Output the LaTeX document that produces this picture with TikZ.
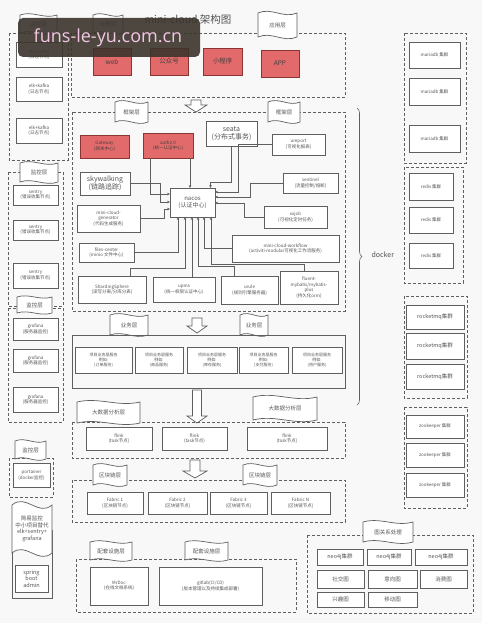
\documentclass[tikz,border=0pt]{standalone}
\usepackage{fontspec}
\setmainfont{Noto Sans CJK SC}
\newfontfamily\wmfont{Open Sans}
\usetikzlibrary{arrows.meta,decorations.pathreplacing,calc}
\definecolor{bordergray}{HTML}{5F5F5F}
\definecolor{textgray}{HTML}{555555}
\definecolor{redfill}{HTML}{E36A6A}
\definecolor{redborder}{HTML}{8A3434}
\definecolor{bgcol}{HTML}{F8F8F8}
\definecolor{wmbg}{HTML}{3B342D}
\definecolor{wmtext}{HTML}{F4C8E4}
\tikzset{
 box/.style={draw=bordergray, line width=0.8pt, fill=white, inner sep=0pt, outer sep=0pt, align=center, text=textgray, font=\fontsize{4.5}{5.5}\selectfont},
 redbox/.style={box, fill=redfill, draw=redborder, text=black!75},
 grp/.style={draw=bordergray, line width=0.8pt, dash pattern=on 3pt off 2pt},
 flagshape/.style={draw=bordergray, line width=0.7pt, fill=white},
 flagtext/.style={text=textgray, font=\fontsize{5.5}{6.5}\selectfont, inner sep=0pt, align=center},
 conn/.style={draw=bordergray, line width=0.6pt, -{Stealth[length=3pt,width=2.6pt]}},
 harrow/.style={draw=bordergray, line width=0.7pt, fill=white},
}
\newcommand\bx[7][box]{\node[#1, minimum width={(#5-#3)*1pt}, minimum height={(#6-#4)*1pt}] (#2) at ({(#3+#5)/2},{(#4+#6)/2}) {#7};}
\newcommand\flagnode[6]{\draw[flagshape] (#2,#3) .. controls ({#2+0.35*(#4-#2)},{#3-0.25*(#5-#3)}) and ({#2+0.65*(#4-#2)},{#3+0.25*(#5-#3)}) .. (#4,#3) -- (#4,#5) .. controls ({#2+0.65*(#4-#2)},{#5+0.25*(#5-#3)}) and ({#2+0.35*(#4-#2)},{#5-0.25*(#5-#3)}) .. (#2,#5) -- cycle; \node[flagtext] (#1) at ({(#2+#4)/2},{(#3+#5)/2}) {#6};}
\newcommand\harrowshape[5]{\draw[harrow] ({#1-#4},#2) -- ({#1+#4},#2) -- ({#1+#4},{#3-7}) -- ({#1+#5},{#3-7}) -- (#1,#3) -- ({#1-#5},{#3-7}) -- ({#1-#4},{#3-7}) -- cycle;}
\begin{document}
\begin{tikzpicture}[x=1pt,y=-1pt]
\fill[bgcol] (0,0) rectangle (482,623);
\useasboundingbox (0,0) rectangle (482,623);

% ---------- left column ----------
\draw[grp] (9,33) rectangle (68,160);
\flagnode{lblmon1}{20}{15}{57}{33}{监控层}
\bx{elk1}{16}{42}{62}{67}{elk+kafka\\(日志节点)}
\bx{elk2}{16}{77}{62}{101}{elk+kafka\\(日志节点)}
\bx{elk3}{16}{118}{62}{143}{elk+kafka\\(日志节点)}

\draw[grp] (8,172) rectangle (63,306);
\flagnode{lblmon2}{20}{163}{58}{182}{监控层}
\bx{sen1}{13}{185}{58}{205}{sentry\\(错误收集节点)}
\bx{sen2}{13}{220}{58}{240}{sentry\\(错误收集节点)}
\bx{sen3}{13}{263}{58}{288}{sentry\\(错误收集节点)}

\draw[grp] (8,308) rectangle (63,422);
\flagnode{lblmon3}{17}{297}{52}{313}{监控层}
\bx{gra1}{13}{318}{58}{340}{grafana\\(服务器监控)}
\bx{gra2}{13}{349}{58}{372}{grafana\\(服务器监控)}
\bx{gra3}{13}{387}{58}{412}{grafana\\(服务器监控)}

\draw[grp] (9,458) rectangle (53,497);
\flagnode{lblmon4}{15}{441}{46}{459}{监控层}
\bx{portainer}{13}{463}{50}{487}{portainer\\(docker监控)}

\draw[draw=bordergray, line width=0.8pt] (12,530) rectangle (52,598);
\flagnode{lblsimple}{12}{505}{52}{553}{简易监控\\中小项目替代\\elk+sentry+\\grafana}
\bx[box, font=\fontsize{5.5}{6.5}\selectfont]{sba}{15}{565}{48}{592}{spring\\boot\\admin}

% ---------- title & application layer ----------
\node[text=textgray, font=\fontsize{10.5}{12}\selectfont] (title) at (188,20) {mini-cloud 架构图};
\draw[grp] (71,33) rectangle (345,97);
\flagnode{lblapp1}{93}{15}{123}{33}{应用层}
\flagnode{lblapp2}{258}{13}{297}{37}{应用层}
\bx[redbox, font=\fontsize{6.5}{7.5}\selectfont]{web}{93}{48}{131}{75}{web}
\bx[redbox, font=\fontsize{6.5}{7.5}\selectfont]{gzh}{150}{48}{188}{75}{公众号}
\bx[redbox, font=\fontsize{6.5}{7.5}\selectfont]{xcx}{203}{48}{242}{75}{小程序}
\bx[redbox, font=\fontsize{6.5}{7.5}\selectfont]{app}{261}{50}{299}{77}{APP}
\harrowshape{196}{100}{112}{5}{11}

% ---------- framework layer ----------
\draw[grp] (72,112) rectangle (345,311);
\flagnode{lblfw1}{115}{102}{148}{122}{框架层}
\flagnode{lblfw2}{268}{102}{300}{122}{框架层}
\bx[redbox]{gw}{80}{135}{129}{158}{Gateway\\(网关中心)}
\bx[redbox]{auth}{143}{133}{193}{158}{auth2.0\\(统一认证中心)}
\bx[box, font=\fontsize{7}{8}\selectfont]{seata}{206}{121}{257}{146}{seata\\(分布式事务)}
\bx{ureport}{272}{134}{325}{155}{ureport\\(可视化报表)}
\bx[box, font=\fontsize{7}{8}\selectfont]{sky}{80}{172}{130}{195}{skywalking\\(链路追踪)}
\bx{sentinel}{283}{173}{338}{193}{sentinel\\(流量控制/熔断)}
\bx[box, font=\fontsize{6}{7}\selectfont]{nacos}{170}{188}{215}{217}{nacos\\(认证中心)}
\bx{gen}{77}{205}{140}{232}{mini-cloud-\\generator\\(代码生成服务)}
\bx{xxjob}{264}{206}{327}{228}{xxjob\\(可视化定时任务)}
\bx{files}{79}{243}{134}{262}{files-center\\(minio 文件中心)}
\bx{wf}{232}{235}{339}{262}{mini-cloud-workflow\\(activiti-modular可视化工作流服务)}
\bx{shard}{78}{276}{146}{303}{ShardingSphere\\(读写分离/分库分表)}
\bx{upms}{153}{277}{215}{302}{upms\\(统一权限认证中心)}
\bx{urule}{221}{276}{278}{304}{urule\\(规则引擎服务器)}
\bx{fluent}{280}{271}{338}{304}{fluent-\\mybatis/mybatis-\\plus\\(持久化orm)}

% connectors into nacos
\draw[conn] ([xshift=-18pt]auth.south) |- ([yshift=8.5pt]nacos.west);
\draw[conn] ([xshift=22pt]auth.south) -- ([xshift=-2.5pt]nacos.north);
\draw[conn] (seata.south) |- (210.5,182) -- ([xshift=18pt]nacos.north);
\draw[conn] (ureport.west) -| (238,192) -- ([yshift=10.5pt]nacos.east);
\draw[conn] (sentinel.west) -| (250,197) -- ([yshift=5.5pt]nacos.east);
\draw[conn] (xxjob.west) -| (244,203) -- ([yshift=-0.5pt]nacos.east);
\draw[conn] (sky.east) -| (160,202) -- ([yshift=0.5pt]nacos.west);
\draw[conn] (gen.east) -| (164,209) -- ([yshift=-6.5pt]nacos.west);
\draw[conn] (files.east) -| ([xshift=-14.5pt]nacos.south);
\draw[conn] ([xshift=18pt]shard.north) |- (185,268) -- ([xshift=-7.5pt]nacos.south);
\draw[conn] ([xshift=8pt]upms.north) -- ([xshift=-0.5pt]nacos.south);
\draw[conn] ([xshift=-15pt]urule.north) |- (198,266) -- ([xshift=5.5pt]nacos.south);
\draw[conn] (wf.west) -| ([xshift=11.5pt]nacos.south);
\draw[conn] ([xshift=-5pt]fluent.north) |- (211,264.5) -- ([xshift=18.5pt]nacos.south);

% ---------- business layer ----------
\harrowshape{197}{318}{333}{5}{10}
\flagnode{lblbiz1}{110}{315}{148}{335}{业务层}
\flagnode{lblbiz2}{240}{315}{268}{335}{业务层}
\draw[draw=bordergray, line width=0.8pt] (72,335) rectangle (345,388);
\bx[box, font=\fontsize{4}{5}\selectfont]{biz1}{75}{347}{132}{373}{项目业务层服务\\例如:\\(订单服务)}
\bx[box, font=\fontsize{4}{5}\selectfont]{biz2}{135}{347}{183}{373}{项目业务层服务\\例如:\\(商品服务)}
\bx[box, font=\fontsize{4}{5}\selectfont]{biz3}{187}{347}{237}{373}{项目业务层服务\\例如:\\(库存服务)}
\bx[box, font=\fontsize{4}{5}\selectfont]{biz4}{239}{347}{288}{373}{项目业务层服务\\例如:\\(支付服务)}
\bx[box, font=\fontsize{4}{5}\selectfont]{biz5}{292}{347}{342}{373}{项目业务层服务\\例如:\\(用户服务)}

% ---------- big data layer ----------
\harrowshape{197}{390}{423}{4.5}{10}
\draw[grp] (72,422) rectangle (345,458);
\flagnode{lblbd1}{77}{402}{140}{423}{大数据分析层}
\flagnode{lblbd2}{253}{397}{317}{420}{大数据分析层}
\bx{flink1}{86}{427}{152}{450}{flink\\(task节点)}
\bx{flink2}{162}{427}{227}{450}{flink\\(task节点)}
\bx{flink3}{247}{427}{327}{450}{flink\\(task节点)}

% ---------- blockchain layer ----------
\harrowshape{195}{460}{478}{5}{12}
\draw[grp] (72,480) rectangle (345,522);
\flagnode{lblbc1}{93}{465}{127}{485}{区块链层}
\flagnode{lblbc2}{243}{465}{277}{485}{区块链层}
\bx{fab1}{87}{492}{143}{514}{Fabric 1\\(区块链节点)}
\bx{fab2}{148}{492}{207}{514}{Fabric 2\\(区块链节点)}
\bx{fab3}{210}{492}{267}{514}{Fabric 3\\(区块链节点)}
\bx{fab4}{271}{492}{330}{514}{Fabric N\\(区块链节点)}

% ---------- support layer ----------
\draw[grp] (76,559) rectangle (296,612);
\flagnode{lblsup1}{90}{542}{132}{560}{配套设施层}
\flagnode{lblsup2}{185}{542}{228}{560}{配套设施层}
\bx{mrdoc}{90}{567}{148}{605}{MrDoc\\(在线文档系统)}
\bx{gitlab}{159}{567}{262}{605}{gitlab(CI/CD)\\(版本管理以及持续集成部署)}

% ---------- graph layer ----------
\draw[grp] (307,535) rectangle (473,613);
\flagnode{lblgraph}{363}{522}{413}{542}{图关系处理}
\bx[box, font=\fontsize{5.5}{6.5}\selectfont]{neo1}{317}{549}{363}{565}{neo4j集群}
\bx[box, font=\fontsize{5.5}{6.5}\selectfont]{neo2}{367}{549}{411}{565}{neo4j集群}
\bx[box, font=\fontsize{5.5}{6.5}\selectfont]{neo3}{415}{549}{467}{565}{neo4j集群}
\bx[box, font=\fontsize{5.5}{6.5}\selectfont]{g1}{317}{570}{364}{588}{社交图}
\bx[box, font=\fontsize{5.5}{6.5}\selectfont]{g2}{368}{570}{417}{588}{意向图}
\bx[box, font=\fontsize{5.5}{6.5}\selectfont]{g3}{420}{570}{467}{588}{消费图}
\bx[box, font=\fontsize{5.5}{6.5}\selectfont]{g4}{317}{592}{364}{607}{兴趣图}
\bx[box, font=\fontsize{5.5}{6.5}\selectfont]{g5}{368}{592}{417}{607}{移动图}

% ---------- right column ----------
\draw[grp] (404,33) rectangle (466,163);
\bx{mdb1}{409}{42}{460}{68}{mariadb 集群}
\bx{mdb2}{409}{78}{460}{105}{mariadb 集群}
\bx{mdb3}{409}{125}{460}{152}{mariadb 集群}
\draw[grp] (404,167) rectangle (463,283);
\bx{red1}{409}{173}{453}{200}{redis 集群}
\bx{red2}{409}{207}{453}{233}{redis 集群}
\bx{red3}{409}{243}{453}{268}{redis 集群}
\draw[grp] (404,296) rectangle (467,398);
\bx[box, font=\fontsize{5.5}{6.5}\selectfont]{rmq1}{406}{305}{464}{329}{rocketmq集群}
\bx[box, font=\fontsize{5.5}{6.5}\selectfont]{rmq2}{406}{333}{464}{359}{rocketmq集群}
\bx[box, font=\fontsize{5.5}{6.5}\selectfont]{rmq3}{406}{364}{464}{389}{rocketmq集群}
\draw[grp] (404,407) rectangle (467,508);
\bx{zk1}{406}{415}{464}{438}{zookeeper 集群}
\bx{zk2}{406}{443}{464}{467}{zookeeper 集群}
\bx{zk3}{406}{473}{464}{497}{zookeeper 集群}

\draw[decorate, decoration={brace, amplitude=5pt}, draw=bordergray, line width=0.6pt] (357,108) -- (357,405);
\node[text=textgray, font=\fontsize{7}{8}\selectfont, anchor=west] (docker) at (368,255) {docker};

% ---------- watermark ----------
\fill[wmbg, opacity=0.9, rounded corners=5pt] (18,18) rectangle (200,57);
\node[text=wmtext, font=\wmfont\fontsize{18}{18}\selectfont] (wm) at (108,38) {funs-le-yu.com.cn};
\end{tikzpicture}
\end{document}
